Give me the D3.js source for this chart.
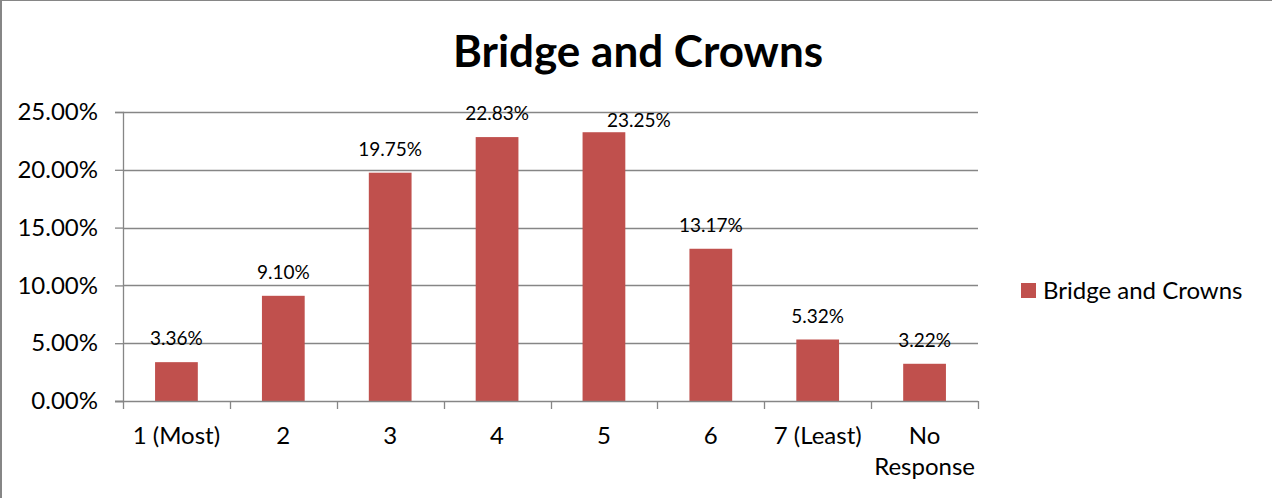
<!DOCTYPE html>
<html>
<head>
<meta charset="utf-8">
<script src="https://cdn.jsdelivr.net/npm/d3@7"></script>
<style>
  html, body { margin: 0; padding: 0; background: #fff; }
  svg { display: block; }
  text { font-family: "Lato", "Open Sans", sans-serif; fill: #000; }
</style>
</head>
<body>
<svg id="chart" width="1272" height="498"></svg>
<script>
// Ranking categories and share of responses
const categories = ["1 (Most)", "2", "3", "4", "5", "6", "7 (Least)", "No\nResponse"];
const values = [3.36, 9.10, 19.75, 22.83, 23.25, 13.17, 5.32, 3.22];
const yTicks = [0, 5, 10, 15, 20, 25];
const seriesName = "Bridge and Crowns";
const chartTitle = "Bridge and Crowns";
// Label nudges (dx, dy) so neighbouring labels do not collide
const labelShift = [[0, 0], [0, 0], [0, 0], [0, 0], [35, 12], [0, 0], [0, 0], [0, 0]];

const barColor = "#C0504D";
const gridColor = "#868686";

const svg = d3.select("#chart");
const W = 1272, H = 498;

// Outer frame (left and top edges visible)
svg.append("line").attr("x1", 1).attr("x2", 1).attr("y1", 0).attr("y2", H)
  .attr("stroke", gridColor).attr("stroke-width", 2);
svg.append("line").attr("x1", 0).attr("x2", W).attr("y1", 0.5).attr("y2", 0.5)
  .attr("stroke", gridColor).attr("stroke-width", 1);

const plot = { left: 123, right: 978, top: 112, bottom: 401 };

const x = d3.scaleBand().domain(categories).range([plot.left, plot.right]).paddingInner(0.6).paddingOuter(0.3);
const xEdges = d3.scaleBand().domain(categories).range([plot.left, plot.right]).padding(0);
const y = d3.scaleLinear().domain([0, 25]).range([plot.bottom, plot.top]);

// Title
svg.append("text")
  .attr("x", 638).attr("y", 67)
  .attr("text-anchor", "middle")
  .style("font-size", "44px").style("font-weight", "bold")
  .text(chartTitle);

// Horizontal gridlines
svg.append("g").selectAll("line").data(yTicks.filter(d => d > 0)).join("line")
  .attr("x1", plot.left).attr("x2", plot.right)
  .attr("y1", d => Math.round(y(d)) + 0.5).attr("y2", d => Math.round(y(d)) + 0.5)
  .attr("stroke", gridColor).attr("stroke-width", 1.3);

// Y axis
const yAxis = d3.axisLeft(y).tickValues(yTicks).tickSize(8).tickPadding(17)
  .tickFormat(d => d.toFixed(2) + "%");
const gy = svg.append("g").attr("transform", `translate(${plot.left},0)`).call(yAxis);
gy.select(".domain").attr("stroke", gridColor).attr("stroke-width", 1.3);
gy.selectAll(".tick line").attr("stroke", gridColor).attr("stroke-width", 1.3);
gy.selectAll(".tick text").style("font-size", "24px").style("font-family", "Lato, sans-serif").attr("fill", "#000");

// Bars
svg.append("g").selectAll("rect").data(values).join("rect")
  .attr("x", (d, i) => x(categories[i]))
  .attr("width", x.bandwidth())
  .attr("y", d => y(d))
  .attr("height", d => plot.bottom - y(d))
  .attr("fill", barColor);

// X axis line and tick marks at category boundaries
const xBoundaries = categories.map(c => xEdges(c)).concat([plot.right]);
svg.append("line").attr("x1", plot.left - 8).attr("x2", plot.right)
  .attr("y1", plot.bottom + 0.5).attr("y2", plot.bottom + 0.5)
  .attr("stroke", gridColor).attr("stroke-width", 1.3);
svg.append("g").selectAll("line").data(xBoundaries).join("line")
  .attr("x1", d => Math.round(d) + 0.5).attr("x2", d => Math.round(d) + 0.5)
  .attr("y1", plot.bottom).attr("y2", plot.bottom + 8)
  .attr("stroke", gridColor).attr("stroke-width", 1.3);

// Category labels (multi-line where needed)
const xl = svg.append("g").selectAll("text").data(categories).join("text")
  .attr("text-anchor", "middle")
  .attr("x", c => xEdges(c) + xEdges.bandwidth() / 2)
  .attr("y", 444)
  .style("font-size", "24px");
xl.each(function (c) {
  const lines = c.split("\n");
  d3.select(this).selectAll("tspan").data(lines).join("tspan")
    .attr("x", xEdges(c) + xEdges.bandwidth() / 2)
    .attr("dy", (d, i) => i === 0 ? 0 : 31)
    .text(d => d);
});

// Value labels
svg.append("g").selectAll("text").data(values).join("text")
  .attr("text-anchor", "middle")
  .attr("x", (d, i) => x(categories[i]) + x.bandwidth() / 2 + labelShift[i][0])
  .attr("y", (d, i) => y(d) - 17 + labelShift[i][1])
  .style("font-size", "19px")
  .text(d => d.toFixed(2) + "%");

// Legend
const lg = svg.append("g").attr("transform", "translate(1021,283)");
lg.append("rect").attr("width", 15).attr("height", 15).attr("fill", barColor);
lg.append("text").attr("x", 22).attr("y", 16).style("font-size", "24px").text(seriesName);
</script>
</body>
</html>
